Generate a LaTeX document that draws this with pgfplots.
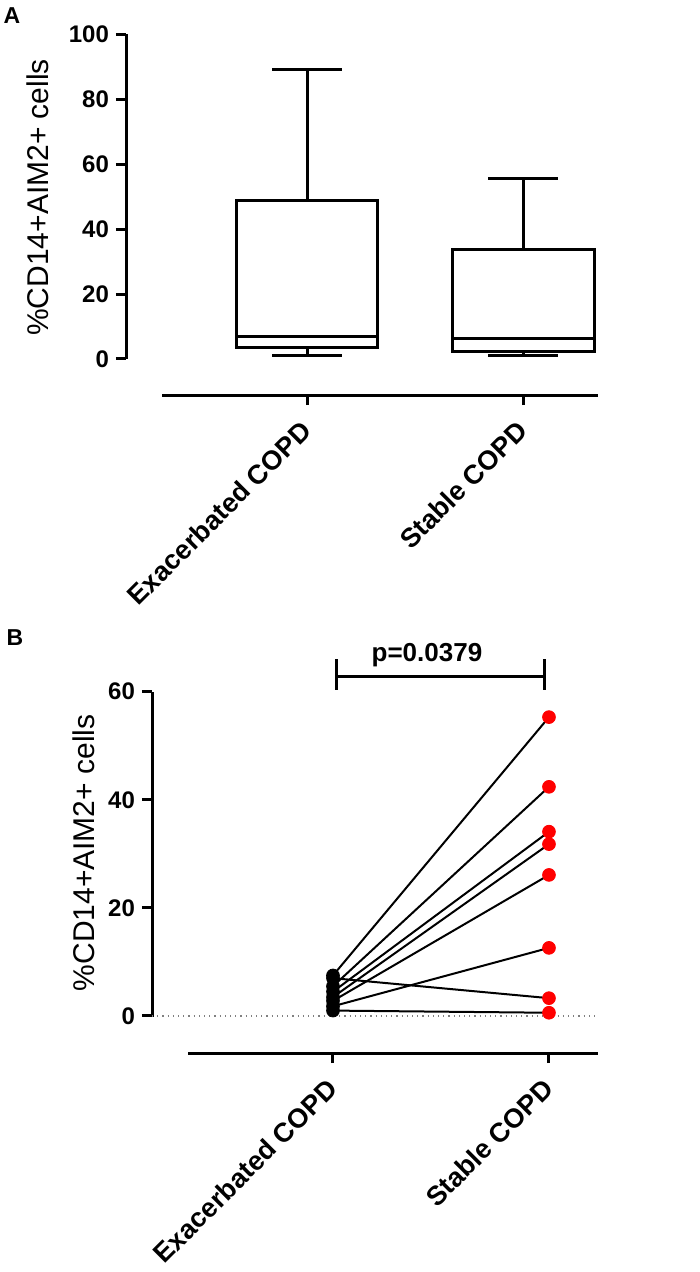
\documentclass[border=0pt]{standalone}
\usepackage{fontspec}
\setmainfont{Liberation Sans}
\usepackage{pgfplots}
\pgfplotsset{compat=1.18}
\usepgfplotslibrary{statistics}
\pgfplotsset{gp/.style={
  scale only axis, axis lines=left, separate axis lines,
  axis line style={-, line width=1.5pt, black},
  x axis line style={shorten <=18pt},
  y axis line style={shorten <=18pt},
  tick align=outside, major tick length=5pt,
  tick style={line width=1.5pt, black},
  xtick={0,1}, xticklabels={Exacerbated COPD, Stable COPD},
  xticklabel style={xshift=-4pt, yshift=-2pt, rotate=45, anchor=north east, font=\bfseries\fontsize{13.5}{13.5}\selectfont},
  yticklabel style={font=\bfseries\fontsize{12}{12}\selectfont},
  /pgf/number format/assume math mode=true,
  ylabel={\%CD14+AIM2+ cells},
  ylabel style={font=\fontsize{15}{15}\selectfont, anchor=center},
  clip=false}}
\begin{document}
\begin{tikzpicture}
\useasboundingbox (0pt,0pt) rectangle (350pt,-636pt);
\node[font=\bfseries\fontsize{11.5}{11.5}\selectfont] at (6pt,-8pt) {A};
\node[font=\bfseries\fontsize{11.5}{11.5}\selectfont] at (7.5pt,-319pt) {B};

\begin{axis}[gp, at={(63pt,-197.5pt)}, anchor=south west,
  width=236pt, height=180.35pt,
  xmin=-0.838, xmax=1.347, ymin=-11.09, ymax=100,
  ytick={0,20,40,60,80,100},
  boxplot/draw direction=y,
  ylabel style={at={(axis description cs:-0.1864,0.548)}}]
\addplot[black, line width=1.5pt, boxplot prepared={draw position=0,
  median=6.9, upper quartile=48.7, lower quartile=3.5,
  upper whisker=89.2, lower whisker=1.2,
  box extend=0.657, whisker extend=0.324}] coordinates {};
\addplot[black, line width=1.5pt, boxplot prepared={draw position=1,
  median=6.4, upper quartile=33.8, lower quartile=2.3,
  upper whisker=55.6, lower whisker=1.0,
  box extend=0.657, whisker extend=0.324}] coordinates {};
\end{axis}

\begin{axis}[gp, at={(76pt,-526.5pt)}, anchor=south west,
  width=223pt, height=180.65pt,
  xmin=-0.838, xmax=1.227, ymin=-6.85, ymax=60,
  ytick={0,20,40,60},
  ylabel style={at={(axis description cs:-0.1525,0.554)}}]
\addplot[gray, dotted, line width=0.6pt] coordinates {(-0.838,0) (1.227,0)};
\addplot[black, line width=1pt] coordinates {(0,7.5) (1,55.3)};
\addplot[black, line width=1pt] coordinates {(0,7.0) (1,3.3)};
\addplot[black, line width=1pt] coordinates {(0,5.5) (1,42.4)};
\addplot[black, line width=1pt] coordinates {(0,4.5) (1,34.1)};
\addplot[black, line width=1pt] coordinates {(0,3.5) (1,31.8)};
\addplot[black, line width=1pt] coordinates {(0,2.8) (1,26.1)};
\addplot[black, line width=1pt] coordinates {(0,1.8) (1,12.6)};
\addplot[black, line width=1pt] coordinates {(0,1.0) (1,0.6)};
\addplot[only marks, mark=*, mark size=3.2pt, black] coordinates {(0,7.5) (0,7.0) (0,5.5) (0,4.5) (0,3.5) (0,2.8) (0,1.8) (0,1.0)};
\addplot[only marks, mark=*, mark size=3.2pt, red, mark options={draw=red, fill=red}] coordinates {(1,55.3) (1,3.3) (1,42.4) (1,34.1) (1,31.8) (1,26.1) (1,12.6) (1,0.6)};
\addplot[black, line width=1.5pt] coordinates {(0.014,62.8) (0.977,62.8)};
\addplot[black, line width=1.5pt] coordinates {(0.014,66.0) (0.014,60.3)};
\addplot[black, line width=1.5pt] coordinates {(0.977,66.0) (0.977,60.3)};
\node[font=\bfseries\fontsize{13}{13}\selectfont] at (axis cs:0.435,66.8) {p=0.0379};
\end{axis}
\end{tikzpicture}
\end{document}
